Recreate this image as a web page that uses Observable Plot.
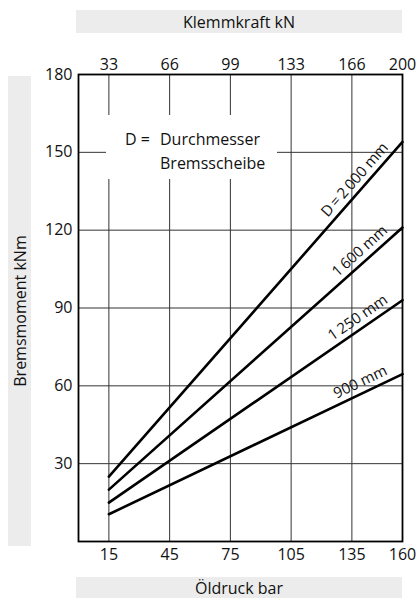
<!DOCTYPE html>
<html>
<head>
<meta charset="utf-8">
<script src="https://cdn.jsdelivr.net/npm/d3@7"></script>
<script src="https://cdn.jsdelivr.net/npm/@observablehq/plot@0.6"></script>
<style>
  html, body { margin: 0; padding: 0; background: white; }
  #wrap { position: relative; width: 416px; height: 598px; font-family: "Open Sans", sans-serif; color: #111; overflow: hidden; }
  #chart { position: absolute; left: 0; top: 0; z-index: 1; }
  .band { position: absolute; background: #ececec; display: flex; align-items: center; justify-content: center; font-size: 16px; z-index: 2; }
  .vband { position: absolute; background: #ececec; z-index: 2; }
  .vband span { position: absolute; left: 50%; top: 50%; transform: translate(-50%, -50%) rotate(-90deg); white-space: nowrap; font-size: 16px; }
  #legendbox { position: absolute; left: 106px; top: 115px; width: 171px; height: 64px; background: white; z-index: 3; font-size: 16px; }
  #legendbox div { position: absolute; white-space: nowrap; line-height: 1; }
  #chart g[aria-label*="tick label"] { font-size: 16px !important; }
  #chart g[aria-label*="tick label"] text { font-size: 16px !important; }
  #chart g[aria-label="text"] text { font-size: 15px !important; }
</style>
</head>
<body>
<div id="wrap">
  <div class="band" style="left:76px; top:10px; width:326px; height:23px; font-size:16px;">Klemmkraft kN</div>
  <div class="band" style="left:76px; top:577px; width:326px; height:21px; font-size:16px;">Öldruck bar</div>
  <div class="vband" style="left:8px; top:76px; width:23px; height:470px;"><span style="font-size:16px;">Bremsmoment kNm</span></div>
  <div id="legendbox">
    <div style="left:19px; top:16px;">D =</div>
    <div style="left:54px; top:16px;">Durchmesser</div>
    <div style="left:54px; top:40px;">Bremsscheibe</div>
  </div>
  <div id="chart"></div>
</div>
<script>
// ---- data ----
const pressureTicks = [15, 45, 75, 105, 135, 160];          // Öldruck bar (bottom axis)
const forceLabels = ["33", "66", "99", "133", "166", "200"]; // Klemmkraft kN (top axis)
const torqueTicks = [30, 60, 90, 120, 150, 180];             // Bremsmoment kNm
const gridPressure = [15, 45, 75, 105, 135];
const gridTorque = [30, 60, 90, 120, 150];

const diameterLabels = ["D\u2009=\u20092\u2009000 mm", "1\u2009600 mm", "1\u2009250 mm", "900 mm"];
const linePressure = [15, 160];
const torqueAtStart = [25, 20, 15, 10.5];
const torqueAtEnd = [154, 121, 93, 64.5];
const labelPressure = [140.5, 142.5, 141, 141.5];

// ---- layout ----
const W = 416, H = 598;
const mL = 78, mR = 14, mT = 74, mB = 57;
const xDomain = [0, 160], yDomain = [0, 180];
const kx = (W - mL - mR) / (xDomain[1] - xDomain[0]);
const ky = (H - mT - mB) / (yDomain[1] - yDomain[0]);

const lineData = [];
diameterLabels.forEach((d, i) => {
  lineData.push({d, p: linePressure[0], t: torqueAtStart[i]});
  lineData.push({d, p: linePressure[1], t: torqueAtEnd[i]});
});

const gap = 11;
const labelData = diameterLabels.map((d, i) => {
  const slope = (torqueAtEnd[i] - torqueAtStart[i]) / (linePressure[1] - linePressure[0]);
  const theta = Math.atan(slope * ky / kx);
  const px = labelPressure[i];
  const t = torqueAtStart[i] + slope * (px - linePressure[0]);
  return {
    d,
    p: px - gap * Math.sin(theta) / kx,
    t: t + gap * Math.cos(theta) / ky,
    r: -theta * 180 / Math.PI
  };
});

const chart = Plot.plot({
  width: W, height: H,
  marginLeft: mL, marginRight: mR, marginTop: mT, marginBottom: mB,
  style: {fontFamily: "Open Sans, sans-serif", fontSize: "16px", background: "transparent", color: "#111"},
  x: {domain: xDomain, axis: null},
  y: {domain: yDomain, axis: null},
  marks: [
    Plot.ruleX(gridPressure, {stroke: "#333", strokeWidth: 1}),
    Plot.ruleY(gridTorque, {stroke: "#333", strokeWidth: 1}),
    Plot.line(lineData, {x: "p", y: "t", z: "d", stroke: "black", strokeWidth: 2.6}),
    Plot.text(labelData, {x: "p", y: "t", text: "d", rotate: "r", textAnchor: "middle", lineAnchor: "middle", fontSize: 15, fill: "#111"}),
    Plot.frame({stroke: "black", strokeWidth: 1.8}),
    Plot.axisX(pressureTicks, {anchor: "bottom", tickSize: 0, tickPadding: 7, label: null, fontSize: 16}),
    Plot.axisX(pressureTicks, {anchor: "top", tickSize: 0, tickPadding: 5, label: null, fontSize: 16,
      tickFormat: d => forceLabels[pressureTicks.indexOf(d)]}),
    Plot.axisY(torqueTicks, {anchor: "left", tickSize: 0, tickPadding: 6, label: null, fontSize: 16})
  ]
});
document.getElementById("chart").appendChild(chart);
</script>
</body>
</html>
